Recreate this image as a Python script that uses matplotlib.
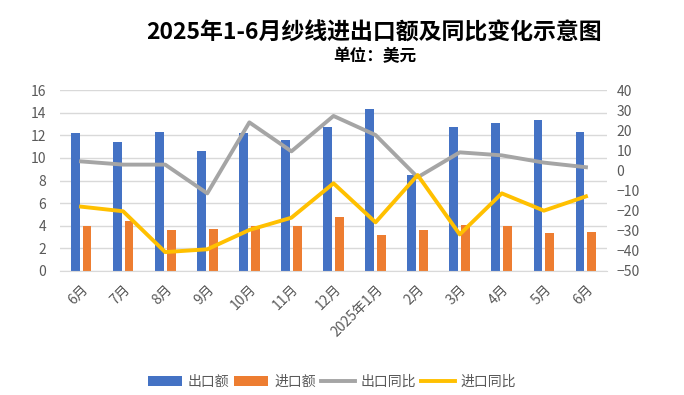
import matplotlib
matplotlib.use("Agg")
import matplotlib.pyplot as plt
import numpy as np

plt.rcParams['font.family'] = ['Noto Sans CJK SC', 'DejaVu Sans']

categories = ["6月", "7月", "8月", "9月", "10月", "11月", "12月", "2025年1月",
              "2月", "3月", "4月", "5月", "6月"]
export_amt = [12.2, 11.4, 12.3, 10.6, 12.2, 11.6, 12.7, 14.3, 8.5, 12.75, 13.1, 13.35, 12.3]
import_amt = [4.0, 4.45, 3.65, 3.75, 4.0, 4.0, 4.8, 3.2, 3.65, 4.05, 4.0, 3.35, 3.45]
export_yoy = [4.5, 2.9, 2.9, -11.4, 23.9, 9.5, 27.1, 17.6, -3.4, 9.0, 7.5, 3.9, 1.6]
import_yoy = [-18.0, -20.3, -40.6, -39.2, -29.6, -23.5, -6.4, -25.8, -2.3, -31.8, -11.4, -20.0, -12.9]

c_blue = '#4472C4'
c_orange = '#ED7D31'
c_gray = '#A5A5A5'
c_yellow = '#FFC000'
c_text = '#595959'
c_grid = '#D9D9D9'

fig = plt.figure(figsize=(6.84, 3.95), dpi=100)
ax = fig.add_axes([60/684, 1-271/395, 547/684, 181/395])
ax2 = ax.twinx()

x = np.arange(len(categories))
w = 0.21
off = 0.14
b1 = ax.bar(x - off, export_amt, width=w, color=c_blue, label='出口额', zorder=2)
b2 = ax.bar(x + off, import_amt, width=w, color=c_orange, label='进口额', zorder=2)
l1, = ax2.plot(x, export_yoy, color=c_gray, lw=2.8, label='出口同比', solid_joinstyle='round')
l2, = ax2.plot(x, import_yoy, color=c_yellow, lw=2.8, label='进口同比', solid_joinstyle='round')

ax.set_xlim(-0.5, len(categories) - 0.5)
ax.set_ylim(0, 16)
ax.set_yticks(np.arange(0, 17, 2))
ax2.set_ylim(-50, 40)
ax2.set_yticks(np.arange(-50, 41, 10))

ax.set_axisbelow(True)
ax.grid(axis='y', color=c_grid, lw=1)
for a in (ax, ax2):
    for s in a.spines.values():
        s.set_visible(False)
    a.tick_params(length=0, colors=c_text, labelsize=10)
ax.spines['bottom'].set_visible(True)
ax.spines['bottom'].set_color(c_grid)

ax.set_xticks(x)
ax.set_xticklabels(categories, rotation=45, ha='right', rotation_mode='anchor', fontsize=10, color=c_text)
ax.tick_params(axis='x', pad=8)
ax.tick_params(axis='y', pad=10)
ax2.tick_params(axis='y', pad=7)

fig.text(374/684, 1-33/395, '2025年1-6月纱线进出口额及同比变化示意图', ha='center', va='center',
         fontsize=16.5, fontweight='bold', color='black')
fig.text(375/684, 1-56/395, '单位：美元', ha='center', va='center',
         fontsize=12, fontweight='bold', color='black')

fig.legend(handles=[b1, b2, l1, l2], loc='center', bbox_to_anchor=(332/684, 1-382/395),
           ncol=4, frameon=False, fontsize=10, labelcolor=c_text, handlelength=2.45,
           handleheight=0.65, columnspacing=0.35, handletextpad=0.43)

fig.savefig('out.png', dpi=100)
